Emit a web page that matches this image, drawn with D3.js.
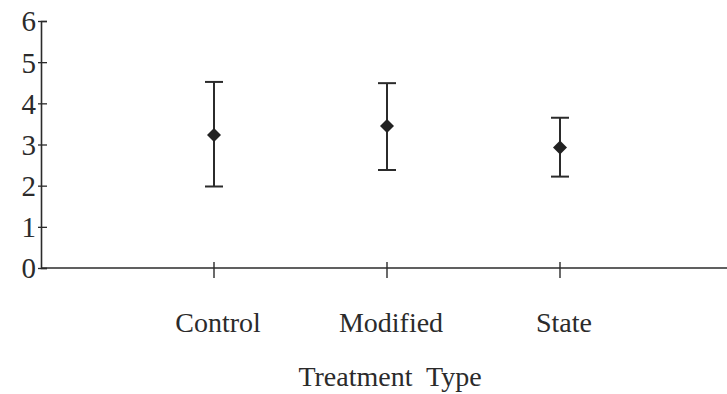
<!DOCTYPE html>
<html>
<head>
<meta charset="utf-8">
<script src="https://cdn.jsdelivr.net/npm/d3@7"></script>
<style>
  html, body { margin: 0; padding: 0; background: #fff; }
  svg { display: block; font-family: "Liberation Serif", "Times New Roman", serif; }
</style>
</head>
<body>
<div id="chart"></div>
<script>
// Mean with min/max error bars per treatment type

const categories = ["Control", "Modified", "State"];
const means = [3.23, 3.45, 2.93];
const lows = [1.98, 2.38, 2.22];
const highs = [4.52, 4.49, 3.65];
const yTicks = [0, 1, 2, 3, 4, 5, 6];

const WIDTH = 727, HEIGHT = 394;
const ink = "#2b2b2b";

const svg = d3.select("#chart").append("svg")
  .attr("width", WIDTH)
  .attr("height", HEIGHT);

const data = categories.map((c, i) => ({cat: c, mean: means[i], lo: lows[i], hi: highs[i]}));

// scales
const y = d3.scaleLinear().domain([0, 6]).range([268, 21]);
const x = d3.scalePoint().domain(categories).range([41, 733]).padding(1);
const axisX = 41;

// y axis
const yAxis = d3.axisLeft(y).tickValues(yTicks).tickFormat(d3.format("d")).tickSize(-6).tickPadding(5);
const gy = svg.append("g").attr("transform", `translate(${axisX},0)`).call(yAxis);
gy.select(".domain").attr("stroke", ink).attr("stroke-width", 1.6);
gy.selectAll(".tick line").attr("x1", -3).attr("stroke", ink).attr("stroke-width", 1.3);
gy.selectAll(".tick text")
  .attr("font-size", 29)
  .attr("fill", ink)
  .attr("font-family", "Liberation Serif, serif")
  .attr("dy", "0.34em");

// x axis line across to right edge
svg.append("line")
  .attr("x1", axisX).attr("x2", WIDTH)
  .attr("y1", y(0)).attr("y2", y(0))
  .attr("stroke", ink).attr("stroke-width", 1.6);

// category ticks
svg.append("g").selectAll("line")
  .data(categories)
  .enter().append("line")
    .attr("x1", d => x(d)).attr("x2", d => x(d))
    .attr("y1", y(0) - 6).attr("y2", y(0) + 10)
    .attr("stroke", ink).attr("stroke-width", 1.4);

// category labels
svg.append("g").selectAll("text")
  .data(categories)
  .enter().append("text")
    .attr("x", d => x(d) + 4)
    .attr("y", 332)
    .attr("text-anchor", "middle")
    .attr("font-size", 28)
    .attr("fill", ink)
    .text(d => d);

// axis title
svg.append("text")
  .attr("x", 390)
  .attr("y", 386)
  .attr("text-anchor", "middle")
  .attr("font-size", 28)
  .attr("fill", ink)
  .style("white-space", "pre")
  .text("Treatment  Type");

// error bars
const bars = svg.append("g").selectAll("g")
  .data(data)
  .enter().append("g");

bars.append("line")
  .attr("x1", d => x(d.cat)).attr("x2", d => x(d.cat))
  .attr("y1", d => y(d.lo)).attr("y2", d => y(d.hi))
  .attr("stroke", ink).attr("stroke-width", 2);

bars.append("line")
  .attr("x1", d => x(d.cat) - 9).attr("x2", d => x(d.cat) + 9)
  .attr("y1", d => y(d.hi)).attr("y2", d => y(d.hi))
  .attr("stroke", ink).attr("stroke-width", 2);

bars.append("line")
  .attr("x1", d => x(d.cat) - 9).attr("x2", d => x(d.cat) + 9)
  .attr("y1", d => y(d.lo)).attr("y2", d => y(d.lo))
  .attr("stroke", ink).attr("stroke-width", 2);

// diamond markers
bars.append("path")
  .attr("d", d3.symbol().type(d3.symbolSquare).size(98))
  .attr("transform", d => `translate(${x(d.cat)},${y(d.mean)}) rotate(45)`)
  .attr("fill", "#222");
</script>
</body>
</html>
